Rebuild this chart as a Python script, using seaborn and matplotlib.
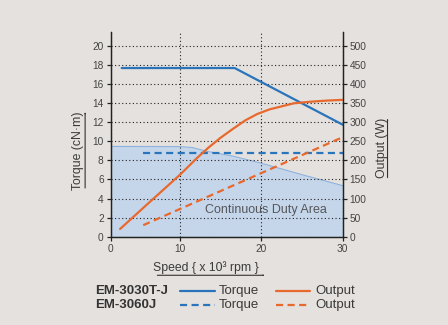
import numpy as np
import pandas as pd
import matplotlib
matplotlib.use('Agg')
import matplotlib.pyplot as plt
from matplotlib.lines import Line2D
from matplotlib.patches import FancyArrowPatch
import seaborn as sns

# data (speed in x10^3 rpm)
x_left = 1.44  # left edge of the plot, labelled "0"

torque_a_x = [2.8, 16.7, 30]
torque_a_y = [17.7, 17.7, 11.75]

output_a_x = [2.6, 6, 10, 12, 13.5, 15, 16.5, 18, 19.5, 21, 22.5, 24, 26, 28, 30]
output_a_y = [20, 86, 163, 205, 234, 260, 283, 305, 322, 334, 342, 350, 354, 357, 359]

torque_b_x = [5.45, 30]
torque_b_y = [8.77, 8.77]

output_b_x = [5.45, 30]
output_b_y = [30, 261]

duty_x = [x_left, 10, 11.5, 13.3, 16.5, 20, 25, 30]
duty_y = [9.47, 9.45, 9.35, 8.95, 8.45, 7.7, 6.5, 5.35]

x_ticks = [x_left, 10, 20, 30]
x_ticklabels = ['0', '10', '20', '30']
torque_ticks = list(range(0, 21, 2))
output_ticks = list(range(0, 501, 50))

BLUE = '#2a74bb'
ORANGE = '#e8692d'
BG = '#e5e1de'
TXT = '#3a3a3a'

sns.set_theme(style='white')
plt.rcParams['font.family'] = ['Liberation Sans', 'DejaVu Sans']

fig = plt.figure(figsize=(4.48, 3.25), dpi=100, facecolor=BG)
ax = fig.add_axes([0.247, 0.272, 0.518, 0.63])
ax.set_facecolor(BG)
ax2 = ax.twinx()

# continuous duty area
ax.fill_between(duty_x, 0, duty_y, color='#c5d6eb', zorder=1, linewidth=0)
ax.plot(duty_x, duty_y, color='#8db2dc', linewidth=0.8, zorder=1.2)
ax.text(20.6, 2.75, 'Continuous Duty Area', ha='center', va='center',
        fontsize=9, color='#55575a', zorder=3)

sns.lineplot(x=torque_a_x, y=torque_a_y, ax=ax, color=BLUE, linewidth=1.6)
sns.lineplot(x=torque_b_x, y=torque_b_y, ax=ax, color=BLUE, linewidth=1.6,
             linestyle=(0, (3.2, 2)))
sns.lineplot(x=output_a_x, y=output_a_y, ax=ax2, color=ORANGE, linewidth=1.6)
sns.lineplot(x=output_b_x, y=output_b_y, ax=ax2, color=ORANGE, linewidth=1.6,
             linestyle=(0, (3.2, 2)))

ax.set_xlim(x_left, 30)
ax.set_ylim(0, 21.5)
ax2.set_ylim(0, 21.5 * 25)
ax.set_xticks(x_ticks)
ax.set_xticklabels(x_ticklabels)
ax.set_yticks(torque_ticks)
ax2.set_yticks(output_ticks)
ax.set_xlabel('')
ax.set_ylabel('')
ax2.set_ylabel('')

ax.set_axisbelow('line')
ax.grid(True, color='#222222', linestyle=(0, (1, 2.2)), linewidth=0.8)
ax2.grid(False)

for a in (ax, ax2):
    a.spines['top'].set_visible(False)
    for s in ('left', 'right', 'bottom'):
        a.spines[s].set_color('#222222')
        a.spines[s].set_linewidth(0.9)
    a.tick_params(direction='out', length=3, width=0.9, color='#222222',
                  labelsize=7.3, labelcolor='#444444', pad=2)
ax.tick_params(axis='both', which='both', left=True, bottom=True)
ax2.tick_params(axis='y', right=True)

# axis titles with underline arrows
fig.text(0.174, 0.535, 'Torque (cN·m)', rotation=90, ha='center', va='center',
         fontsize=8.8, color=TXT)
fig.text(0.852, 0.545, 'Output (W)', rotation=90, ha='center', va='center',
         fontsize=8.8, color=TXT)
fig.text(0.46, 0.178, 'Speed { x 10³ rpm }', ha='center', va='center',
         fontsize=8.8, color=TXT)
arrow = dict(arrowstyle='-|>,head_length=0.35,head_width=0.12', color='#333333', lw=0.8)
fig.add_artist(FancyArrowPatch((0.19, 0.413), (0.19, 0.665),
                               transform=fig.transFigure, **arrow))
fig.add_artist(FancyArrowPatch((0.865, 0.445), (0.865, 0.645),
                               transform=fig.transFigure, **arrow))
fig.add_artist(FancyArrowPatch((0.345, 0.153), (0.598, 0.153),
                               transform=fig.transFigure, **arrow))

# legend
models = ['EM-3030T-J', 'EM-3060J']
styles = ['-', (0, (3.2, 2))]
rows_y = [0.106, 0.061]
for name, ls, yy in zip(models, styles, rows_y):
    fig.text(0.212, yy, name, fontsize=9.5, fontweight='bold', color='#333333',
             va='center', ha='left')
    fig.add_artist(Line2D([0.402, 0.48], [yy, yy], transform=fig.transFigure,
                          color=BLUE, linewidth=1.6, linestyle=ls))
    fig.text(0.489, yy, 'Torque', fontsize=9.5, color=TXT, va='center', ha='left')
    fig.add_artist(Line2D([0.615, 0.692], [yy, yy], transform=fig.transFigure,
                          color=ORANGE, linewidth=1.6, linestyle=ls))
    fig.text(0.703, yy, 'Output', fontsize=9.5, color=TXT, va='center', ha='left')

fig.savefig('out.png', dpi=100, facecolor=BG)
